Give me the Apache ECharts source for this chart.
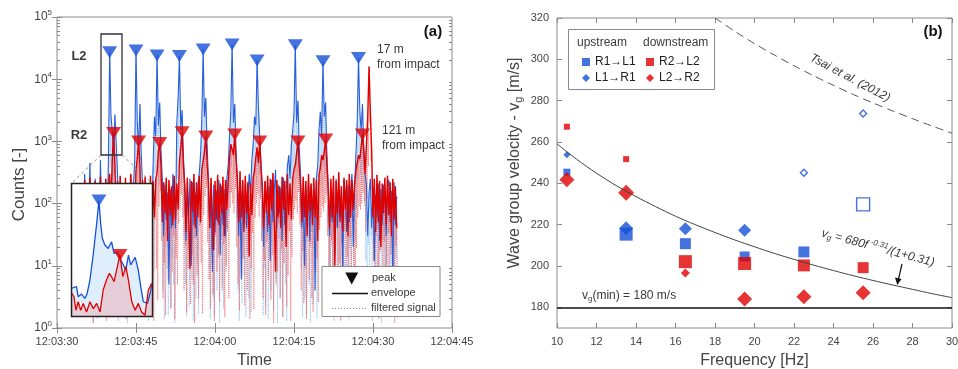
<!DOCTYPE html>
<html><head><meta charset="utf-8">
<script src="https://cdn.jsdelivr.net/npm/echarts@6/dist/echarts.min.js"></script>
<style>html,body{margin:0;padding:0;background:#fff}#c{width:958px;height:369px}</style>
</head><body><div id="c"></div>
<script>
// ---------------- Panel (a) data ----------------
const timeLabels = ['12:03:30','12:03:45','12:04:00','12:04:15','12:04:30','12:04:45'];
const logExponents = [0,1,2,3,4,5];
const T0 = 4.75, DT = 0.25; // seconds after 12:03:30, sample spacing
const redEnv = [
200,60,240,45,180,15,260,70,150,50,
230,40,190,80,270,55,210,20,250,65,
170,300,90,520,1360,400,60,230,35,280,
75,210,12,260,50,190,85,300,40,220,
60,330,560,1000,420,45,240,18,270,55,
200,70,280,30,230,60,250,310,700,940,
380,50,220,70,260,25,240,65,190,45,
280,55,210,80,500,800,1400,420,200,35,
260,60,9,230,75,300,40,220,60,280,
50,350,480,700,1200,450,210,40,260,70,
18,230,55,290,45,210,70,270,30,240,
80,220,520,900,750,600,1290,500,260,50,
330,60,240,35,280,70,220,14,210,65,
260,340,560,800,450,1000,380,180,40,230,
70,280,45,250,80,310,55,8,240,60,
190,40,270,80,230,20,300,65,210,55,
250,350,420,650,1000,380,200,50,270,60,
230,30,300,75,210,45,260,60,240,25,
290,380,600,500,700,1070,420,170,40,250,
60,280,10,230,70,320,50,190,35,260,
80,240,30,300,60,240,80,210,330,450,
600,520,800,1290,700,300,900,2500,16000,3000,
700,60,250,35,290,50,230,20,210,70,
260,45,280,65,220,30,250,55,190,40];
const blueEnv = [
150,40,300,20,200,60,450,30,180,8,
250,50,160,25,500,45,200,15,220,60,
400,27000,2500,1500,600,2700,900,300,40,180,
35,120,6,210,50,150,25,300,45,180,
500,29000,2000,800,4000,600,200,30,250,40,
180,12,220,60,400,2500,1200,24000,1800,4200,
700,250,30,200,55,150,5,170,40,300,
150,40,2000,5000,23500,1500,3200,600,200,25,
180,60,250,10,220,45,150,30,190,300,
600,2200,30000,2500,5000,900,250,40,180,8,
200,35,160,50,240,15,190,45,170,30,
250,400,1200,3000,36000,2000,4000,700,200,30,
170,6,230,55,200,40,120,300,150,500,
900,2500,1800,20000,3500,1200,400,150,20,220,
110,35,190,12,240,50,160,350,40,200,
70,180,25,260,45,150,400,600,250,900,
1500,2800,35000,2000,4500,800,300,40,150,10,
180,45,230,25,200,60,170,4,260,400,
1500,3000,1200,19500,2500,4200,600,200,30,160,
50,220,15,250,40,150,60,190,8,240,
130,35,200,50,160,300,20,180,600,2000,
22000,3000,1500,4000,800,300,200,30,150,250,
40,190,12,140,60,210,25,170,45,200,
130,30,180,240,50,160,6,220,45,130];
const redTrough = [
3,12,1.5,25,6,2,40,8,1.2,15,
4,30,2,9,1.8,50,5,20,1.3,7,
11,60,2.5,120,300,80,18,1.6,6,28,
2,9,45,1.4,14,4,22,1.7,8,33,
5,70,150,200,30,3,12,1.9,26,7,
2.2,38,4,17,1.3,55,9,2.8,90,160,
25,3,11,1.6,42,6,19,2.1,8,30,
1.4,13,5,48,80,140,60,4,21,1.8,
9,36,2.4,15,5,1.2,28,7,3,44,
11,1.7,65,130,180,24,6,2,18,3.5,
1.3,32,8,14,2.6,50,4,22,1.5,10,
39,3,85,150,100,70,170,20,5,1.9,
27,7,13,2.3,46,4,16,1.4,9,34,
2,58,100,140,60,120,25,3,12,1.6,
24,6,40,2.8,15,1.2,31,5,8,47,
3,19,1.5,11,29,2.2,7,36,1.3,14,
55,80,110,70,150,45,4,17,2.5,9,
1.4,33,6,21,3,1.8,43,8,13,2.6,
38,60,90,75,100,140,30,5,1.7,26,
8,2,16,42,3,11,1.3,23,6,37,
1.9,14,4,28,2.4,51,7,1.5,19,60,
90,80,100,150,110,35,120,400,2000,500,
85,12,2.2,30,5,1.4,18,44,3,24,
1.6,9,33,2.7,15,48,4,1.2,21,7];
const blueTrough = [
1.5,20,4,35,2,10,60,3,1.2,18,
6,1.4,25,3,80,9,1.8,30,2,12,
90,400,150,60,200,70,8,1.3,22,4,
1.6,28,5,14,1.2,40,3,19,7,1.5,
100,600,300,150,500,40,6,1.7,24,3,
1.3,15,2.5,45,8,300,100,400,200,500,
60,4,1.4,20,9,1.6,33,2,14,5,
1.2,26,250,700,400,200,350,30,5,1.5,
18,2.2,40,6,1.3,28,3,11,1.7,50,
80,300,500,250,600,70,9,1.4,20,3,
1.6,30,4,16,1.2,37,5,2,24,8,
35,70,150,400,600,300,500,60,4,1.3,
22,2.5,44,7,1.5,17,3,55,1.8,90,
120,300,200,400,300,150,25,1.6,9,2.3,
31,1.4,12,4,46,1.9,20,6,1.2,27,
3,16,1.5,38,5,1.3,60,90,20,120,
200,350,500,250,400,70,9,1.5,13,3,
1.7,24,5,1.2,35,2.4,14,6,1.4,60,
200,350,150,400,250,300,50,3,1.6,21,
4,1.3,29,7,1.8,41,2.2,16,5,1.5,
33,3,1.4,19,6,48,2,24,80,250,
450,300,200,350,90,12,1.6,22,4,30,
1.3,15,5,1.9,38,3,17,1.2,26,6,
2,11,1.5,34,4,1.7,21,3,13,1.4];
const bluePeakT = [10.0,15.0,19.0,23.25,27.75,33.25,38.0,45.25,50.5,57.25];
const bluePeakV = [27000,29000,24000,23500,30000,36000,20000,35000,19500,22000];
const redPeakT  = [10.75,15.5,19.5,23.75,28.25,33.75,38.5,45.75,51.0,58.0];
const redPeakV  = [1365,1000,940,1400,1200,1290,1000,1000,1070,1290];
// inset (zoom of first event)
const insetBlueT = [9.03,9.20,9.26,9.38,9.50,9.58,9.68,9.80,9.92,10.0,10.06,10.12,10.21,10.33,10.45,10.54,10.65,10.75,10.87,10.96,11.05,11.13,11.29,11.40,11.49,11.58,11.73,11.82,11.88];
const insetBlueV = [220,240,138,160,126,165,350,1480,7800,27000,7800,3400,2350,1950,2800,1480,1620,1120,790,600,1350,790,1200,600,240,105,96,165,260];
const insetRedT = [9.03,9.11,9.18,9.26,9.35,9.44,9.56,9.68,9.80,9.92,10.04,10.15,10.27,10.37,10.45,10.54,10.63,10.75,10.85,10.96,11.05,11.17,11.29,11.40,11.52,11.64,11.76,11.88];
const insetRedV = [165,138,66,105,66,96,60,105,72,96,60,200,345,500,415,315,600,1365,415,720,345,105,66,96,60,50,200,290];

// ---------------- Panel (b) data ----------------
const freq = [10.5,13.5,16.5,19.5,22.5,25.5];
const upSquare   = [245.4,215.4,210.8,204.6,206.8,229.8];  // R1 -> L1
const upDiamond  = [253.8,218.3,218.0,217.3,245.1,273.8];  // L1 -> R1
const downSquare = [267.4,251.7,202.1,201.2,200.3,199.2];  // R2 -> L2
const downDiamond= [241.7,235.5,196.6,184.0,185.1,187.1];  // L2 -> R2
const modelF = [10,11,12,13,14,15,16,17,18,19,20,21,22,23,24,25,26,27,28,29,30];
const modelV = [259.1,251.6,244.9,238.9,233.6,228.7,224.1,220.0,216.2,212.6,209.3,206.1,203.2,200.4,197.8,195.3,193.0,190.8,188.7,186.6,184.7];
const tsaiF = [18,19,20,21,22,23,24,25,26,27,28,29,30];
const tsaiV = [320,313.6,307.6,302.1,296.9,292.0,287.4,283.0,278.9,275.0,271.3,267.7,264.3];
const vgMin = 180;
const yTicksB = [180,200,220,240,260,280,300,320];
// marker appearance (kept apart from the values)
const sizeUpSq = [7,13,11,10,11,13], openUpSq = [0,0,0,0,0,1];
const sizeUpDi = [7,14,13,13,7,7],   openUpDi = [0,0,0,0,1,1];
const sizeDnSq = [6,6,13,13,12,11],  openDnSq = [0,0,0,0,0,0];
const sizeDnDi = [15,16,9,15,15,15], openDnDi = [0,0,0,0,0,0];

// ---------------- build ----------------
const FONT = '"Liberation Sans", Arial, sans-serif';
const GRAY = '#8a8a8a', TXT = '#3a3a3a', LAB = '#444';
const BLUE = '#1550d8', RED = '#e00000';

const times = redEnv.map((_, i) => T0 + i * DT);
const envData = arr => arr.map((v, i) => [times[i], v]);
const filtData = (env, tr) => { const o = []; env.forEach((v, i) => { o.push([times[i], v]); o.push([times[i] + DT / 2, tr[i]]); }); return o; };
const pairs = (xs, ys) => xs.map((x, i) => [x, ys[i]]);
const minorLog = [];
logExponents.slice(0, -1).forEach(d => { for (let k = 2; k <= 9; k++) minorLog.push(d + Math.log10(k)); });

function markers(vals, sizes, open, color) {
  return vals.map((v, i) => ({
    value: [freq[i], v], symbolSize: sizes[i],
    itemStyle: open[i] ? { color: '#fff', borderColor: color, borderWidth: 1.4 } : { color: color }
  }));
}
function T(x, y, text, size, o) {
  o = o || {};
  return { type: 'text', x: x, y: y, z: o.z || 30, rotation: o.rot || 0,
    style: { text: text, fill: o.color || TXT,
      font: (o.italic ? 'italic ' : '') + (o.bold ? 'bold ' : '') + size + 'px ' + FONT,
      align: o.align || 'left', verticalAlign: 'middle', textAlign: o.align || 'left', textVerticalAlign: 'middle',
      rich: o.rich } };
}
const tickStyle = { inside: true, length: 5, lineStyle: { color: GRAY } };
const noSplit = { show: false };
const lab = { fontSize: 11, color: LAB, fontFamily: FONT };

const option = {
  animation: false,
  backgroundColor: '#fff',
  grid: [
    { left: 57, top: 17, width: 395, height: 311, show: true, borderColor: GRAY, borderWidth: 1, backgroundColor: 'transparent', outerBoundsMode: 'none' },
    { left: 557, top: 18, width: 395, height: 310, show: true, borderColor: GRAY, borderWidth: 1, backgroundColor: 'transparent', outerBoundsMode: 'none' },
    { left: 72, top: 184, width: 80, height: 132, show: false, outerBoundsMode: 'none' }
  ],
  xAxis: [
    { gridIndex: 0, type: 'value', min: 0, max: 75, interval: 15, position: 'bottom',
      axisLine: { show: false }, axisTick: tickStyle, splitLine: noSplit,
      axisLabel: Object.assign({ margin: 8, formatter: v => timeLabels[Math.round(v / 15)] }, lab),
      name: 'Time', nameLocation: 'middle', nameGap: 25, nameTextStyle: { fontSize: 16, color: LAB, fontFamily: FONT } },
    { gridIndex: 0, type: 'value', min: 0, max: 75, interval: 15, position: 'top',
      axisLine: { show: false }, axisTick: tickStyle, splitLine: noSplit, axisLabel: { show: false } },
    { gridIndex: 1, type: 'value', min: 10, max: 30, interval: 2, position: 'bottom',
      axisLine: { show: false }, axisTick: tickStyle, splitLine: noSplit,
      axisLabel: Object.assign({ margin: 8 }, lab),
      name: 'Frequency [Hz]', nameLocation: 'middle', nameGap: 25, nameTextStyle: { fontSize: 16, color: LAB, fontFamily: FONT } },
    { gridIndex: 1, type: 'value', min: 10, max: 30, interval: 2, position: 'top',
      axisLine: { show: false }, axisTick: tickStyle, splitLine: noSplit, axisLabel: { show: false } },
    { gridIndex: 2, type: 'value', min: 9.04, max: 11.89, show: false, splitLine: noSplit }
  ],
  yAxis: [
    { gridIndex: 0, type: 'log', logBase: 10, min: 1, max: 100000, position: 'left',
      axisLine: { show: false }, axisTick: tickStyle, splitLine: noSplit,
      axisLabel: { margin: 5, formatter: v => '{b|10}{s|' + Math.round(Math.log10(v)) + '}',
        rich: { b: { fontSize: 12, color: LAB, fontFamily: FONT }, s: { fontSize: 8, color: LAB, fontFamily: FONT, padding: [0, 0, 8, 0] } } },
      name: 'Counts [-]', nameLocation: 'middle', nameGap: 29,
      nameTextStyle: { fontSize: 17, color: LAB, fontFamily: FONT, padding: [0, 24, 0, 0] } },
    { gridIndex: 0, type: 'log', logBase: 10, min: 1, max: 100000, position: 'right',
      axisLine: { show: false }, axisTick: tickStyle, splitLine: noSplit, axisLabel: { show: false } },
    { gridIndex: 0, type: 'value', min: 0, max: 5, position: 'left',
      axisLine: { show: false }, splitLine: noSplit, axisLabel: { show: false },
      axisTick: { inside: true, length: 3, customValues: minorLog, lineStyle: { color: GRAY } } },
    { gridIndex: 0, type: 'value', min: 0, max: 5, position: 'right',
      axisLine: { show: false }, splitLine: noSplit, axisLabel: { show: false },
      axisTick: { inside: true, length: 3, customValues: minorLog, lineStyle: { color: GRAY } } },
    { gridIndex: 1, type: 'value', min: 170, max: 320, position: 'left',
      axisLine: { show: false }, splitLine: noSplit,
      axisTick: { inside: true, length: 5, customValues: yTicksB, lineStyle: { color: GRAY } },
      axisLabel: Object.assign({ margin: 8, customValues: yTicksB }, lab),
      name: '{a|Wave group velocity - v}{s|g}{a| [m/s]}', nameLocation: 'middle', nameGap: 33,
      nameTextStyle: { padding: [0, 0, 0, 20], rich: { a: { fontSize: 16, color: LAB, fontFamily: FONT }, s: { fontSize: 11, color: LAB, fontFamily: FONT, padding: [7, 0, 0, 0] } } } },
    { gridIndex: 1, type: 'value', min: 170, max: 320, position: 'right',
      axisLine: { show: false }, splitLine: noSplit, axisLabel: { show: false },
      axisTick: { inside: true, length: 5, customValues: yTicksB, lineStyle: { color: GRAY } } },
    { gridIndex: 2, type: 'log', logBase: 10, min: 48, max: 67000, show: false, splitLine: noSplit }
  ],
  legend: [
    { left: 577, top: 51, orient: 'vertical', itemWidth: 8, itemHeight: 8, itemGap: 4, selectedMode: false,
      data: [{ name: 'R1→L1', icon: 'rect' }, { name: 'L1→R1', icon: 'diamond' }],
      textStyle: { fontSize: 12, color: '#222', fontFamily: FONT } },
    { left: 641, top: 51, orient: 'vertical', itemWidth: 8, itemHeight: 8, itemGap: 4, selectedMode: false,
      data: [{ name: 'R2→L2', icon: 'rect' }, { name: 'L2→R2', icon: 'diamond' }],
      textStyle: { fontSize: 12, color: '#222', fontFamily: FONT } }
  ],
  series: [
    { type: 'line', xAxisIndex: 0, yAxisIndex: 0, data: filtData(blueEnv, blueTrough), showSymbol: false, z: 2,
      lineStyle: { color: 'rgba(130,185,240,0.8)', width: 0.9, type: 'dotted' } },
    { type: 'line', xAxisIndex: 0, yAxisIndex: 0, data: filtData(redEnv, redTrough), showSymbol: false, z: 2,
      lineStyle: { color: 'rgba(240,80,80,0.7)', width: 1, type: 'dotted' } },
    { type: 'line', xAxisIndex: 0, yAxisIndex: 0, data: envData(blueEnv), showSymbol: false, z: 3,
      lineStyle: { color: BLUE, width: 1.1, opacity: 0.9 } },
    { type: 'line', xAxisIndex: 0, yAxisIndex: 0, data: envData(redEnv), showSymbol: false, z: 3,
      lineStyle: { color: RED, width: 1.4 } },
    { type: 'scatter', xAxisIndex: 0, yAxisIndex: 0, data: pairs(bluePeakT, bluePeakV), z: 4,
      symbol: 'triangle', symbolRotate: 180, symbolSize: [15, 12], itemStyle: { color: BLUE } },
    { type: 'scatter', xAxisIndex: 0, yAxisIndex: 0, data: pairs(redPeakT, redPeakV), z: 4,
      symbol: 'triangle', symbolRotate: 180, symbolSize: [15, 12], itemStyle: { color: RED } },
    // inset
    { type: 'line', xAxisIndex: 4, yAxisIndex: 6, data: pairs(insetBlueT, insetBlueV), showSymbol: false, z: 11,
      lineStyle: { color: BLUE, width: 1.3 }, areaStyle: { origin: 'start', color: 'rgba(150,200,245,0.45)' } },
    { type: 'line', xAxisIndex: 4, yAxisIndex: 6, data: pairs(insetRedT, insetRedV), showSymbol: false, z: 11,
      lineStyle: { color: RED, width: 1.3 }, areaStyle: { origin: 'start', color: 'rgba(245,140,140,0.45)' } },
    { type: 'scatter', xAxisIndex: 4, yAxisIndex: 6, data: [[bluePeakT[0], bluePeakV[0]]], z: 12,
      symbol: 'triangle', symbolRotate: 180, symbolSize: [15, 12], itemStyle: { color: BLUE } },
    { type: 'scatter', xAxisIndex: 4, yAxisIndex: 6, data: [[redPeakT[0], redPeakV[0]]], z: 12,
      symbol: 'triangle', symbolRotate: 180, symbolSize: [15, 12], itemStyle: { color: RED } },
    // panel b
    { type: 'line', xAxisIndex: 2, yAxisIndex: 4, data: pairs(modelF, modelV), showSymbol: false, smooth: 0.3,
      lineStyle: { color: '#444', width: 1 },
      markLine: { silent: true, symbol: 'none', label: { show: false }, lineStyle: { color: '#111', width: 1.5, type: 'solid' }, data: [{ yAxis: vgMin }] } },
    { type: 'line', xAxisIndex: 2, yAxisIndex: 4, data: pairs(tsaiF, tsaiV), showSymbol: false, smooth: 0.3,
      lineStyle: { color: '#555', width: 1, type: [8, 5] } },
    { name: 'R1→L1', type: 'scatter', xAxisIndex: 2, yAxisIndex: 4, symbol: 'rect', itemStyle: { color: BLUE }, data: markers(upSquare, sizeUpSq, openUpSq, BLUE) },
    { name: 'L1→R1', type: 'scatter', xAxisIndex: 2, yAxisIndex: 4, symbol: 'diamond', itemStyle: { color: BLUE }, data: markers(upDiamond, sizeUpDi, openUpDi, BLUE) },
    { name: 'R2→L2', type: 'scatter', xAxisIndex: 2, yAxisIndex: 4, symbol: 'rect', itemStyle: { color: RED }, data: markers(downSquare, sizeDnSq, openDnSq, RED) },
    { name: 'L2→R2', type: 'scatter', xAxisIndex: 2, yAxisIndex: 4, symbol: 'diamond', itemStyle: { color: RED }, data: markers(downDiamond, sizeDnDi, openDnDi, RED) }
  ],
  graphic: { elements: [
    // inset background and frame
    { type: 'rect', z: 10, shape: { x: 72, y: 184, width: 80, height: 132 }, style: { fill: '#fff' } },
    { type: 'rect', z: 13, shape: { x: 71.5, y: 183.5, width: 81, height: 133 }, style: { fill: 'none', stroke: '#222', lineWidth: 1.5 } },
    { type: 'rect', z: 20, shape: { x: 101, y: 34, width: 21, height: 121 }, style: { fill: 'none', stroke: '#333', lineWidth: 1.3 } },
    { type: 'line', z: 20, shape: { x1: 101, y1: 155, x2: 72, y2: 183 }, style: { stroke: '#777', lineWidth: 0.8, lineDash: [3, 3] } },
    { type: 'line', z: 20, shape: { x1: 122, y1: 155, x2: 152, y2: 183 }, style: { stroke: '#777', lineWidth: 0.8, lineDash: [3, 3] } },
    // panel a texts
    T(79, 56, 'L2', 13, { bold: true, align: 'center' }),
    T(79, 135, 'R2', 13, { bold: true, align: 'center' }),
    T(377, 50, '17 m', 12), T(377, 65, 'from impact', 12),
    T(382, 131, '121 m', 12), T(382, 146, 'from impact', 12),
    T(433, 32, '(a)', 15, { bold: true, align: 'center', color: '#111' }),
    // panel a legend
    { type: 'rect', z: 20, shape: { x: 322, y: 266.5, width: 118, height: 50 }, style: { fill: '#fff', stroke: '#888', lineWidth: 1 } },
    { type: 'polygon', z: 21, shape: { points: [[345.2, 272.5], [358.2, 272.5], [351.7, 284.5]] }, style: { fill: '#111' } },
    { type: 'line', z: 21, shape: { x1: 332, y1: 293.5, x2: 368, y2: 293.5 }, style: { stroke: '#111', lineWidth: 1.3 } },
    { type: 'line', z: 21, shape: { x1: 332, y1: 308.5, x2: 368, y2: 308.5 }, style: { stroke: '#666', lineWidth: 0.8, lineDash: [1, 2] } },
    T(372, 278, 'peak', 11, { z: 22 }), T(371, 293, 'envelope', 11, { z: 22 }), T(371, 308, 'filtered signal', 11, { z: 22 }),
    // panel b
    { type: 'rect', z: 1, shape: { x: 568.5, y: 29.5, width: 146, height: 60 }, style: { fill: '#fff', stroke: '#888', lineWidth: 1 } },
    T(577, 43, 'upstream', 12), T(643, 43, 'downstream', 12),
    T(933, 32, '(b)', 15, { bold: true, align: 'center', color: '#111' }),
    T(582, 296, '{n|v}{s|g}{n|(min) = 180 m/s}', 12, { rich: { n: { fontSize: 12, fontFamily: FONT, fill: TXT }, s: { fontSize: 8, fontFamily: FONT, fill: TXT, padding: [6, 0, 0, 0] } } }),
    T(878, 248, '{n|v}{s|g}{n| = 680f}{p| -0.31}{n|/(1+0.31)}', 12, { rot: -0.26, align: 'center',
      rich: { n: { fontSize: 12, fontStyle: 'italic', fontFamily: FONT, fill: TXT }, s: { fontSize: 8, fontStyle: 'italic', fontFamily: FONT, fill: TXT, padding: [6, 0, 0, 0] }, p: { fontSize: 8, fontStyle: 'italic', fontFamily: FONT, fill: TXT, padding: [0, 0, 8, 0] } } }),
    T(850, 78, 'Tsai et al. (2012)', 12, { rot: -0.49, align: 'center', italic: true }),
    { type: 'line', z: 21, shape: { x1: 902, y1: 264, x2: 898.5, y2: 279 }, style: { stroke: '#111', lineWidth: 1.2 } },
    { type: 'polygon', z: 21, shape: { points: [[895, 277.5], [901.5, 279], [897.3, 285]] }, style: { fill: '#111' } }
  ] }
};
const chart = echarts.init(document.getElementById('c'), null, { renderer: 'canvas' });
chart.setOption(option);
</script></body></html>
